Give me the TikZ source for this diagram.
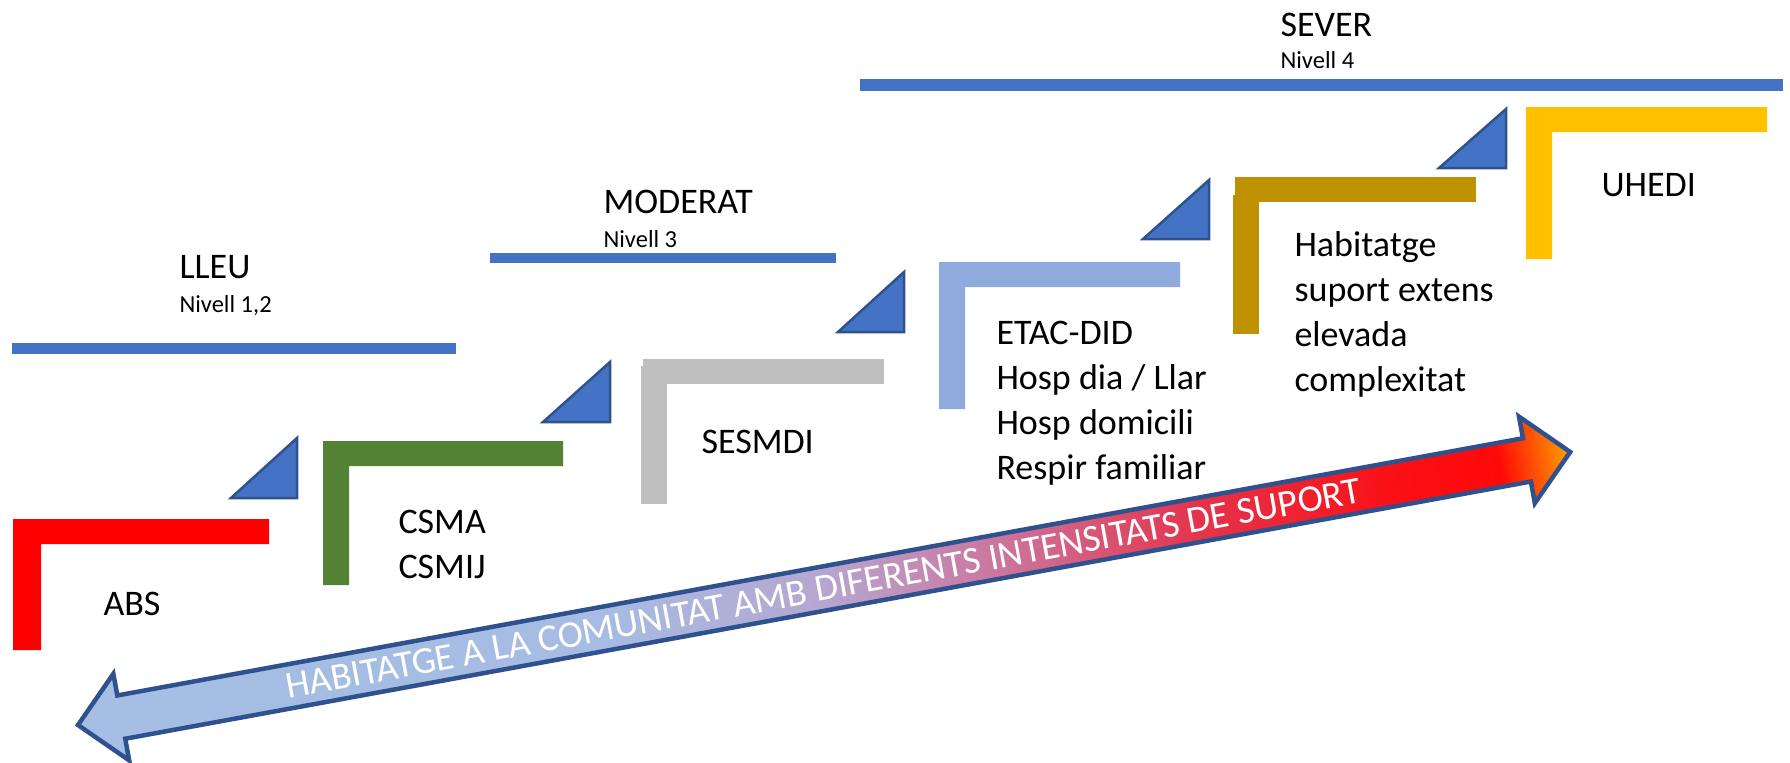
\documentclass[tikz,border=0pt]{standalone}
\usepackage{fontspec}
\setmainfont{Carlito}

\definecolor{levelblue}{HTML}{4472C4}
\definecolor{edgeblue}{HTML}{2F528F}
\definecolor{stepred}{HTML}{FF0000}
\definecolor{stepgreen}{HTML}{548235}
\definecolor{stepgray}{HTML}{BFBFBF}
\definecolor{steplight}{HTML}{8FAADC}
\definecolor{stepgold}{HTML}{BF9000}
\definecolor{stepyellow}{HTML}{FFC000}

% colour ramp of the double arrow, from the left tip to the right tip
\definecolor{rampA}{RGB}{166,190,228}
\definecolor{rampB}{RGB}{166,188,226}
\definecolor{rampC}{RGB}{182,166,208}
\definecolor{rampD}{RGB}{204,116,156}
\definecolor{rampE}{RGB}{228,52,76}
\definecolor{rampF}{RGB}{250,16,22}
\definecolor{rampG}{RGB}{255,8,8}
\definecolor{rampH}{RGB}{255,160,0}
\pgfdeclarehorizontalshading{rampshade}{100bp}{%
  color(0bp)=(rampA); color(25bp)=(rampA); color(42.5bp)=(rampB);
  color(50bp)=(rampC); color(56bp)=(rampD); color(62.5bp)=(rampE);
  color(69bp)=(rampF); color(72.6bp)=(rampG); color(75bp)=(rampH);
  color(100bp)=(rampH)}

\begin{document}
\begin{tikzpicture}[x=0.4pt, y=-0.4pt,
  bigtext/.style={inner sep=0pt, anchor=base west, font=\fontsize{14.4pt}{18pt}\selectfont},
  smalltext/.style={inner sep=0pt, anchor=base west, font=\fontsize{9.8pt}{11.5pt}\selectfont},
  bandtext/.style={inner sep=0pt, anchor=base, text=white, font=\fontsize{15.2pt}{18pt}\selectfont},
  levelbar/.style={fill=levelblue},
  riser/.style={fill=levelblue, draw=edgeblue, line width=1, line join=miter},
  stepbar/.style={fill=#1, draw=none}]

\useasboundingbox (0,0) rectangle (1790,762);

% level lines
\fill[levelbar] (12,343) rectangle (456,354);
\fill[levelbar] (490,253) rectangle (836,263);
\fill[levelbar] (860,79) rectangle (1783,91);

% level titles
\node[bigtext] (lleu) at (179,278) {LLEU};
\node[smalltext] (lleun) at (179,312) {Nivell 1,2};
\node[bigtext] (moderat) at (603,213) {MODERAT};
\node[smalltext] (moderatn) at (603,247) {Nivell 3};
\node[bigtext] (sever) at (1280,36) {SEVER};
\node[smalltext] (severn) at (1280,68) {Nivell 4};

% steps
\fill[stepbar=stepred] (13,650) -- (13,519) -- (269,519) -- (269,544) -- (41,544) -- (41,650) -- cycle;
\fill[stepbar=stepgreen] (323,585) -- (323,441) -- (563,441) -- (563,466) -- (349,466) -- (349,585) -- cycle;
\fill[stepbar=stepgray] (643,359) rectangle (884,384);
\fill[stepbar=stepgray] (641,366) rectangle (667,504);
\fill[stepbar=steplight] (939,409) -- (939,262) -- (1180,262) -- (1180,287) -- (965,287) -- (965,409) -- cycle;
\fill[stepbar=stepgold] (1235,177) rectangle (1476,202);
\fill[stepbar=stepgold] (1233,195) rectangle (1259,334);
\fill[stepbar=stepyellow] (1526,259) -- (1526,107) -- (1767,107) -- (1767,132) -- (1552,132) -- (1552,259) -- cycle;

% risers between the steps
\filldraw[riser] (231,498) -- (297,438) -- (297,498) -- cycle;
\filldraw[riser] (543,422) -- (610,362) -- (610,422) -- cycle;
\filldraw[riser] (838,332) -- (904,272) -- (904,332) -- cycle;
\filldraw[riser] (1143,239) -- (1209,180) -- (1209,239) -- cycle;
\filldraw[riser] (1439,168) -- (1506,109) -- (1506,168) -- cycle;

% services
\node[bigtext] (abs) at (103,615) {ABS};
\node[bigtext] (csm) at (398,533) {\begin{tabular}[t]{@{}l@{}}CSMA\\CSMIJ\end{tabular}};
\node[bigtext] (sesmdi) at (701,453) {SESMDI};
\node[bigtext] (etac) at (996,344) {\begin{tabular}[t]{@{}l@{}}ETAC-DID\\Hosp dia / Llar\\Hosp domicili\\Respir familiar\end{tabular}};
\node[bigtext] (habit) at (1294,256) {\begin{tabular}[t]{@{}l@{}}Habitatge\\suport extens\\elevada\\complexitat\end{tabular}};
\node[bigtext] (uhedi) at (1601,196) {UHEDI};

% double arrow along the staircase
\begin{scope}[transform canvas={shift={(78,725)}, rotate=10.37}]
  \shade[shading=rampshade, draw=edgeblue, line width=1.8, line join=miter]
    (0,0) -- (44,-44) -- (44,-22) -- (1473,-22) -- (1473,-44) -- (1517,0)
    -- (1473,44) -- (1473,22) -- (44,22) -- (44,44) -- cycle;
  \node[bandtext] (band) at (758,12) {HABITATGE A LA COMUNITAT AMB DIFERENTS INTENSITATS DE SUPORT};
\end{scope}
\end{tikzpicture}
\end{document}
